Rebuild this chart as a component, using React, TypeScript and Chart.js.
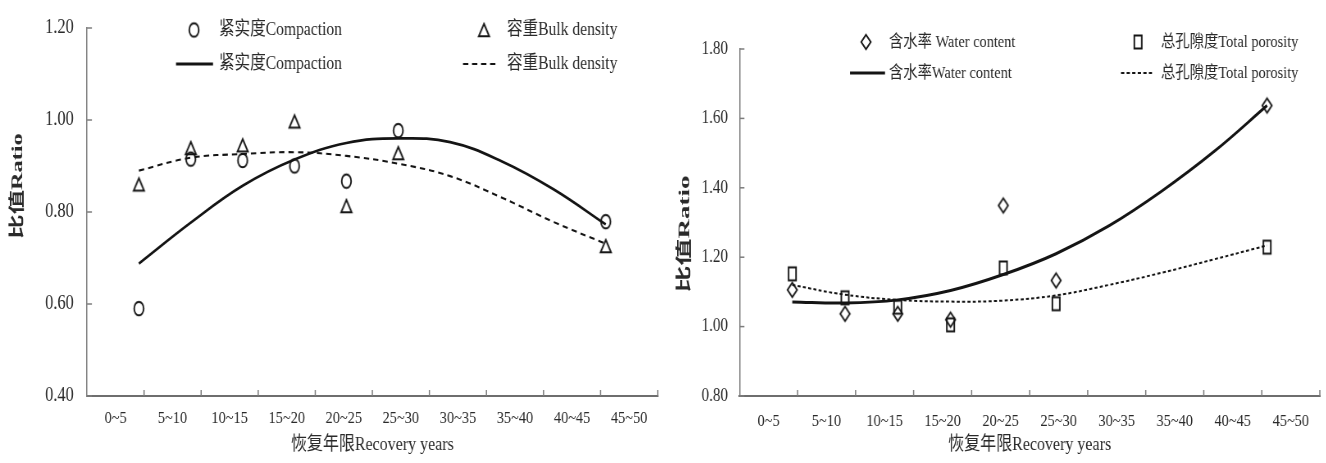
import React, { useEffect, useRef } from 'react';
import { Chart, registerables } from 'chart.js';

Chart.register(...registerables);

// ---------------- data ----------------
const categories = ['0~5', '5~10', '10~15', '15~20', '20~25', '25~30', '30~35', '35~40', '40~45', '45~50'];
const pointX = [1, 2, 3, 4, 5, 6, 10];
const compaction = [0.59, 0.915, 0.912, 0.9, 0.867, 0.977, 0.779];
const bulkDensity = [0.86, 0.939, 0.945, 0.997, 0.813, 0.928, 0.726];
const trendX = [1, 2, 3, 4, 5, 6, 7, 8, 9, 10];
const compactionTrend = [0.688, 0.777, 0.857, 0.914, 0.95, 0.96, 0.952, 0.91, 0.849, 0.773];
const bulkDensityTrend = [0.89, 0.918, 0.926, 0.93, 0.922, 0.905, 0.878, 0.831, 0.778, 0.731];
const waterContent = [1.106, 1.037, 1.037, 1.02, 1.349, 1.133, 1.637];
const totalPorosity = [1.152, 1.083, 1.056, 1.005, 1.169, 1.066, 1.229];
const waterContentTrend = [1.071, 1.068, 1.077, 1.104, 1.15, 1.21, 1.29, 1.39, 1.505, 1.637];
const totalPorosityTrend = [1.12, 1.092, 1.077, 1.072, 1.075, 1.09, 1.12, 1.155, 1.194, 1.234];

const xTitleText = '恢复年限Recovery years';
const yTitleText = '比值Ratio';
const leftLegendTexts = ['紧实度Compaction', '容重Bulk density', '紧实度Compaction', '容重Bulk density'];
const rightLegendTexts = ['含水率 Water content', '总孔隙度Total porosity', '含水率Water content', '总孔隙度Total porosity'];

// ---------------- style / layout ----------------
const SX = 0.82; // horizontal condensing of the whole drawing
const CANVAS_W = 809;
const CANVAS_H = 463;
const FONT = "'Liberation Serif', 'Times New Roman', 'Noto Sans CJK SC', serif";
const INK = '#141414';
const TEXT = '#2a2a2a';
const AXIS = '#7c7c7c';

type MarkerKind = 'circle' | 'triangle' | 'diamond' | 'square';

function makeMarker(kind: MarkerKind, wDisp: number, hDisp: number): HTMLCanvasElement {
  const w = wDisp / SX;
  const h = hDisp;
  const c = document.createElement('canvas');
  c.width = Math.ceil(w + 5);
  c.height = Math.ceil(h + 5);
  const ctx = c.getContext('2d')!;
  ctx.strokeStyle = INK;
  ctx.lineWidth = 1.9;
  const cx = c.width / 2;
  const cy = c.height / 2;
  ctx.beginPath();
  if (kind === 'circle') {
    ctx.ellipse(cx, cy, w / 2, h / 2, 0, 0, Math.PI * 2);
  } else if (kind === 'triangle') {
    ctx.moveTo(cx, cy - h / 2);
    ctx.lineTo(cx + w / 2, cy + h / 2);
    ctx.lineTo(cx - w / 2, cy + h / 2);
    ctx.closePath();
  } else if (kind === 'diamond') {
    ctx.moveTo(cx, cy - h / 2);
    ctx.lineTo(cx + w / 2, cy);
    ctx.lineTo(cx, cy + h / 2);
    ctx.lineTo(cx - w / 2, cy);
    ctx.closePath();
  } else {
    ctx.rect(cx - w / 2, cy - h / 2, w, h);
  }
  ctx.stroke();
  return c;
}

interface LegendItem {
  marker?: HTMLCanvasElement;
  x1: number;
  x2?: number;
  dash?: number[];
  lineWidth?: number;
  textX: number;
  y: number;
  text: string;
}

interface Panel {
  yMin: number;
  yMax: number;
  top: number;
  padRight: number;
  yWidth: number;
  xHeight: number;
  yTickPad: number;
  xTickPad: number;
  yTickFont: number;
  xTickFont: number;
  legendFont: number;
  xTitleFont: number;
  xTitlePadBottom: number;
  yTitle: { x: number; y: number; size: number; stretch: number };
  datasets: any[];
  legend: LegendItem[];
}

const d = (v: number) => v / SX; // displayed px -> internal px

function pts(xs: number[], ys: number[]) {
  return xs.map((x, i) => ({ x, y: ys[i] }));
}

function pointSet(xs: number[], ys: number[], marker: HTMLCanvasElement) {
  return {
    data: pts(xs, ys),
    xAxisID: 'xl',
    yAxisID: 'y',
    pointStyle: marker,
    pointRadius: 6,
    pointHoverRadius: 6,
    showLine: false,
  };
}

function lineSet(xs: number[], ys: number[], width: number, dash: number[]) {
  return {
    data: pts(xs, ys),
    xAxisID: 'xl',
    yAxisID: 'y',
    showLine: true,
    borderColor: INK,
    borderWidth: width,
    borderDash: dash,
    pointRadius: 0,
    pointHoverRadius: 0,
    tension: 0.4,
    fill: false,
  };
}

function createPanel(canvas: HTMLCanvasElement, p: Panel): Chart {
  const decor = {
    id: 'decor',
    afterDraw(chart: any) {
      const ctx: CanvasRenderingContext2D = chart.ctx;
      const { left, bottom } = chart.chartArea;
      const xs = chart.scales.x;
      const ys = chart.scales.y;
      ctx.save();
      // inward tick marks
      ctx.strokeStyle = AXIS;
      ctx.lineWidth = 1.5;
      ctx.setLineDash([]);
      for (const t of ys.ticks) {
        const py = ys.getPixelForValue(t.value);
        ctx.beginPath();
        ctx.moveTo(left, py);
        ctx.lineTo(left + 6, py);
        ctx.stroke();
      }
      for (let k = 1; k <= categories.length; k++) {
        const px = xs.getPixelForValue(k - 0.5);
        ctx.beginPath();
        ctx.moveTo(px, bottom);
        ctx.lineTo(px, bottom - 6);
        ctx.stroke();
      }
      // legend
      ctx.font = `${p.legendFont}px ${FONT}`;
      ctx.textBaseline = 'middle';
      ctx.textAlign = 'left';
      for (const it of p.legend) {
        if (it.marker) {
          ctx.drawImage(it.marker, it.x1 - it.marker.width / 2, it.y - it.marker.height / 2);
        } else {
          ctx.strokeStyle = INK;
          ctx.lineWidth = it.lineWidth || 2;
          ctx.setLineDash(it.dash || []);
          ctx.beginPath();
          ctx.moveTo(it.x1, it.y);
          ctx.lineTo(it.x2 || it.x1, it.y);
          ctx.stroke();
          ctx.setLineDash([]);
        }
        ctx.fillStyle = TEXT;
        ctx.fillText(it.text, it.textX, it.y);
      }
      // y title
      ctx.save();
      ctx.translate(p.yTitle.x, p.yTitle.y);
      ctx.rotate(-Math.PI / 2);
      ctx.scale(p.yTitle.stretch, 1);
      ctx.font = `bold ${p.yTitle.size}px ${FONT}`;
      ctx.textAlign = 'center';
      ctx.textBaseline = 'middle';
      ctx.fillStyle = TEXT;
      ctx.fillText(yTitleText, 0, 0);
      ctx.restore();
      ctx.restore();
    },
  };

  return new Chart(canvas, {
    type: 'scatter',
    data: { datasets: p.datasets },
    options: {
      animation: false,
      responsive: false,
      events: [],
      layout: { padding: { top: p.top, right: p.padRight, bottom: 0, left: 0 } },
      plugins: { legend: { display: false }, tooltip: { enabled: false } },
      scales: {
        xl: { type: 'linear', axis: 'x', min: 0, max: 11, display: false },
        x: {
          type: 'category',
          labels: categories,
          offset: true,
          position: 'bottom',
          grid: { display: false, drawTicks: false },
          border: { display: true, color: '#6e6e6e', width: 2 },
          ticks: {
            autoSkip: false,
            maxRotation: 0,
            padding: p.xTickPad,
            color: TEXT,
            font: { family: FONT, size: p.xTickFont },
          },
          title: {
            display: true,
            text: xTitleText,
            color: TEXT,
            font: { family: FONT, size: p.xTitleFont },
            padding: { top: 0, bottom: p.xTitlePadBottom },
          },
          afterFit: (s: any) => {
            s.height = p.xHeight;
          },
        },
        y: {
          type: 'linear',
          position: 'left',
          min: p.yMin,
          max: p.yMax,
          grid: { display: false, drawTicks: false },
          border: { display: true, color: AXIS, width: 1.5 },
          ticks: {
            stepSize: 0.2,
            padding: p.yTickPad,
            color: TEXT,
            font: { family: FONT, size: p.yTickFont },
            callback: (v: any) => Number(v).toFixed(2),
          },
          afterFit: (s: any) => {
            s.width = p.yWidth;
          },
        },
      },
    } as any,
    plugins: [decor],
  });
}

export default function App() {
  const leftRef = useRef<HTMLCanvasElement>(null);
  const rightRef = useRef<HTMLCanvasElement>(null);

  useEffect(() => {
    const circle = makeMarker('circle', 9.5, 13.5);
    const triangle = makeMarker('triangle', 10.5, 12.5);
    const diamond = makeMarker('diamond', 9.5, 14.5);
    const square = makeMarker('square', 7.5, 13);

    const left: Panel = {
      yMin: 0.4,
      yMax: 1.2,
      top: 19,
      padRight: 2,
      yWidth: d(87),
      xHeight: 67,
      yTickPad: 16,
      xTickPad: 12,
      yTickFont: 20,
      xTickFont: 17.5,
      legendFont: 19,
      xTitleFont: 19.5,
      xTitlePadBottom: 6,
      yTitle: { x: d(18), y: 186, size: 19, stretch: 1.28 },
      datasets: [
        pointSet(pointX, compaction, circle),
        pointSet(pointX, bulkDensity, triangle),
        lineSet(trendX, compactionTrend, 2.7, []),
        lineSet(trendX, bulkDensityTrend, 2.1, [6.5, 5]),
      ],
      legend: [
        { marker: circle, x1: d(194), textX: d(219), y: 30, text: leftLegendTexts[0] },
        { marker: triangle, x1: d(484), textX: d(507), y: 30, text: leftLegendTexts[1] },
        { x1: d(176), x2: d(213), lineWidth: 2.8, textX: d(219), y: 64, text: leftLegendTexts[2] },
        { x1: d(463), x2: d(499), lineWidth: 2, dash: [6.5, 4.5], textX: d(507), y: 64, text: leftLegendTexts[3] },
      ],
    };

    const right: Panel = {
      yMin: 0.8,
      yMax: 1.8,
      top: 49,
      padRight: 8,
      yWidth: d(76.5),
      xHeight: 67,
      yTickPad: 14,
      xTickPad: 15,
      yTickFont: 18.5,
      xTickFont: 17.5,
      legendFont: 17.5,
      xTitleFont: 19.5,
      xTitlePadBottom: 6,
      yTitle: { x: d(22.5), y: 234, size: 19, stretch: 1.42 },
      datasets: [
        pointSet(pointX, waterContent, diamond),
        pointSet(pointX, totalPorosity, square),
        lineSet(trendX, waterContentTrend, 3, []),
        lineSet(trendX, totalPorosityTrend, 2, [3.7, 2.8]),
      ],
      legend: [
        { marker: diamond, x1: d(203), textX: d(226), y: 42, text: rightLegendTexts[0] },
        { marker: square, x1: d(475), textX: d(498), y: 42, text: rightLegendTexts[1] },
        { x1: d(187), x2: d(222), lineWidth: 3, textX: d(226), y: 73, text: rightLegendTexts[2] },
        { x1: d(458), x2: d(489), lineWidth: 2, dash: [4, 2.8], textX: d(498), y: 73, text: rightLegendTexts[3] },
      ],
    };

    const c1 = createPanel(leftRef.current!, left);
    const c2 = createPanel(rightRef.current!, right);
    return () => {
      c1.destroy();
      c2.destroy();
    };
  }, []);

  const canvasStyle = (x: number): React.CSSProperties => ({
    position: 'absolute',
    left: x,
    top: 0,
    width: CANVAS_W,
    height: CANVAS_H,
    transform: `scaleX(${SX})`,
    transformOrigin: '0 0',
  });

  return (
    <div
      style={{
        position: 'absolute',
        left: 0,
        top: 0,
        width: 1326,
        height: 463,
        overflow: 'hidden',
        background: '#ffffff',
      }}
    >
      <canvas ref={leftRef} width={CANVAS_W} height={CANVAS_H} style={canvasStyle(0)} />
      <canvas ref={rightRef} width={CANVAS_W} height={CANVAS_H} style={canvasStyle(663)} />
    </div>
  );
}
